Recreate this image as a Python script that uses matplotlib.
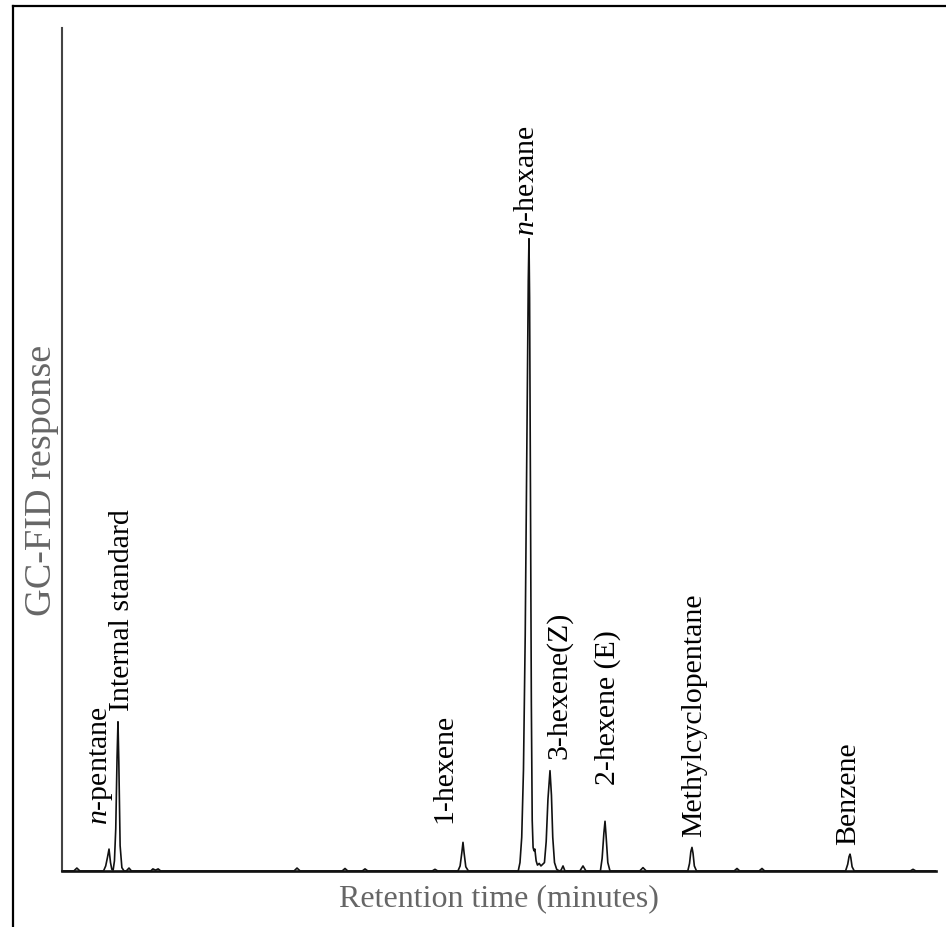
import matplotlib
matplotlib.use("Agg")
import matplotlib.pyplot as plt
from matplotlib.lines import Line2D

plt.rcParams["font.family"] = ["Liberation Serif", "DejaVu Serif"]
plt.rcParams["mathtext.fontset"] = "custom"
plt.rcParams["mathtext.rm"] = "Liberation Serif"
plt.rcParams["mathtext.it"] = "Liberation Serif:italic"

time = [0.00, 0.27, 0.34, 0.41, 0.95, 1.00, 1.04, 1.076, 1.11, 1.14, 1.17, 1.20, 1.23, 1.26,
        1.281, 1.30, 1.33, 1.37, 1.42, 1.47, 1.533, 1.59, 2.03, 2.08, 2.14, 2.20, 2.26,
        5.31, 5.378, 5.45, 6.41, 6.476, 6.54, 6.87, 6.934, 7.00, 8.47, 8.535, 8.60,
        9.06, 9.11, 9.15, 9.176, 9.20, 9.24, 9.30,
        10.44, 10.48, 10.52, 10.56, 10.60, 10.64, 10.67, 10.686, 10.70, 10.72, 10.74, 10.76,
        10.78, 10.80, 10.82, 10.85, 10.88, 10.92, 10.96, 11.00, 11.04, 11.08, 11.12, 11.167,
        11.20, 11.23, 11.27, 11.32, 11.38, 11.42, 11.465, 11.51, 11.85, 11.922, 11.99,
        12.32, 12.36, 12.40, 12.426, 12.45, 12.49, 12.54, 13.22, 13.295, 13.37,
        14.32, 14.36, 14.39, 14.416, 14.44, 14.47, 14.52, 15.38, 15.446, 15.51,
        15.95, 16.018, 16.08, 17.93, 17.98, 18.01, 18.032, 18.05, 18.08, 18.13,
        19.41, 19.474, 19.54, 20.00]
response = [0.0, 0.0, 0.35, 0.0, 0.0, 0.6, 1.6, 2.6, 1.0, 0.2, 0.1, 1.2, 5.0, 13.5,
            17.7, 13.0, 3.0, 0.4, 0.0, 0.0, 0.35, 0.0, 0.0, 0.25, 0.1, 0.25, 0.0,
            0.0, 0.35, 0.0, 0.0, 0.3, 0.0, 0.0, 0.25, 0.0, 0.0, 0.2, 0.0,
            0.0, 0.6, 2.2, 3.4, 2.2, 0.5, 0.0,
            0.0, 1.0, 4.0, 12.0, 28.0, 52.0, 70.0, 75.0, 68.0, 45.0, 20.0, 6.0,
            2.8, 2.4, 2.6, 1.2, 0.7, 0.9, 0.6, 0.8, 1.0, 3.5, 8.5, 11.9,
            9.0, 4.0, 1.0, 0.2, 0.0, 0.1, 0.6, 0.0, 0.0, 0.6, 0.0,
            0.0, 1.5, 4.5, 5.9, 4.2, 1.0, 0.0, 0.0, 0.4, 0.0,
            0.0, 0.9, 2.3, 2.8, 2.1, 0.6, 0.0, 0.0, 0.3, 0.0,
            0.0, 0.3, 0.0, 0.0, 0.8, 1.7, 2.0, 1.6, 0.5, 0.0,
            0.0, 0.2, 0.0, 0.0]

# identified peaks
names = ["$n$-pentane", "Internal standard", "1-hexene", "$n$-hexane",
         "3-hexene(Z)", "2-hexene (E)", "Methylcyclopentane", "Benzene"]
peak_time = [1.076, 1.281, 9.176, 10.686, 11.167, 12.426, 14.416, 18.032]
peak_resp = [2.6, 17.7, 3.4, 75.0, 11.9, 5.9, 2.8, 2.0]

# label placement relative to the apex (pixels)
lab_dx = [-8, 4, -19, -2, 9, 3, 2, -2]
lab_dy = [25, 12, 20, 4, 13, 37, 11, 10]

W, H = 946, 928
fig = plt.figure(figsize=(W / 100, H / 100), dpi=100)
fig.patch.set_facecolor("white")
ax = fig.add_axes([62 / W, 1 - 872 / H, (936 - 62) / W, (872 - 29) / H])

ax.plot(time, response, color="#111111", lw=1.2, solid_joinstyle="round")
ax.set_xlim(0, 20)
ax.set_ylim(0, 100)

for n, t, r, dx, dy in zip(names, peak_time, peak_resp, lab_dx, lab_dy):
    ax.annotate(n, xy=(t, r), xytext=(dx, dy), textcoords="offset pixels",
                rotation=90, ha="center", va="bottom", fontsize=21.5, color="black")

ax.set_xticks([])
ax.set_yticks([])
for s in ("top", "right"):
    ax.spines[s].set_visible(False)
ax.spines["bottom"].set_linewidth(1.9)
ax.spines["bottom"].set_color("#111111")
ax.spines["left"].set_linewidth(1.5)
ax.spines["left"].set_color("#444444")

ax.set_xlabel("Retention time (minutes)", fontsize=23, color="#666666", labelpad=9)
ax.set_ylabel("GC-FID response", fontsize=27.5, color="#666666")
ax.yaxis.set_label_coords(-0.003, 0.465)

# frame around the figure (only top and left sides are inside the picture)
fig.add_artist(Line2D([13 / W, 13 / W], [0, 1 - 7 / H], color="black", lw=1.6,
                      transform=fig.transFigure))
fig.add_artist(Line2D([13 / W, 1], [1 - 7 / H, 1 - 7 / H], color="black", lw=1.6,
                      transform=fig.transFigure))

fig.savefig("out.png", dpi=100, facecolor="white")
plt.close(fig)
